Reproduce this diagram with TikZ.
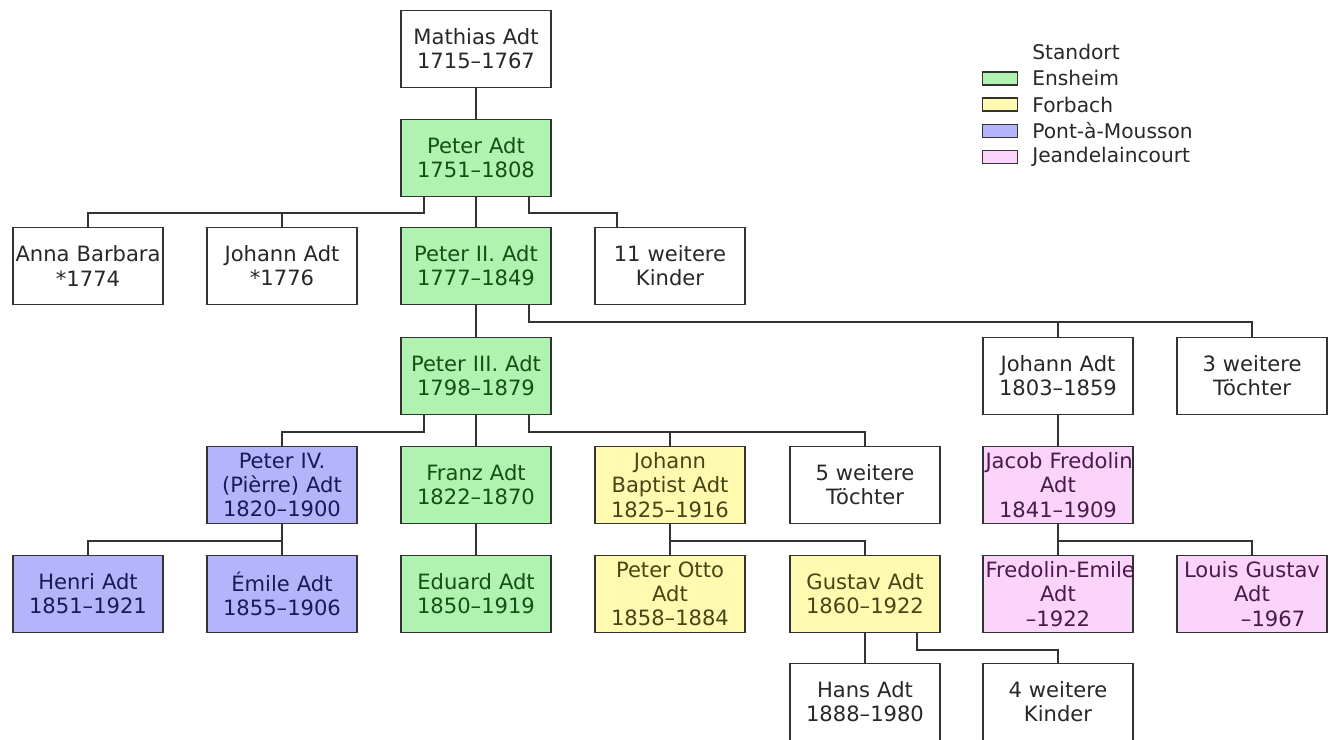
\documentclass[tikz,border=0pt]{standalone}
\usepackage{fontspec}
\setmainfont{DejaVu Sans}
\usetikzlibrary{positioning, calc}

\definecolor{linegray}{RGB}{51,51,51}
\definecolor{textgray}{RGB}{40,40,40}
\definecolor{ensheim}{RGB}{176,242,176}
\definecolor{ensheimtext}{RGB}{20,80,20}
\definecolor{forbach}{RGB}{255,250,176}
\definecolor{forbachtext}{RGB}{70,70,20}
\definecolor{pont}{RGB}{180,180,250}
\definecolor{ponttext}{RGB}{25,25,85}
\definecolor{jean}{RGB}{250,212,250}
\definecolor{jeantext}{RGB}{75,25,75}

\tikzset{
  person/.style={draw=linegray, line width=1.1pt, fill=white, text=textgray,
    minimum width=3cm, minimum height=1.54cm, text width=2.9cm, inner sep=0pt,
    align=center, font=\fontsize{12}{13.8}\selectfont},
  ens/.style={person, fill=ensheim, text=ensheimtext},
  forb/.style={person, fill=forbach, text=forbachtext},
  pam/.style={person, fill=pont, text=ponttext},
  jdc/.style={person, fill=jean, text=jeantext},
  link/.style={draw=linegray, line width=1.1pt},
  swatch/.style={draw=linegray, line width=0.9pt, minimum width=0.7cm, minimum height=0.26cm, inner sep=0pt},
  legtext/.style={anchor=west, text=textgray, inner sep=0pt, font=\fontsize{11.5}{13}\selectfont}
}

\begin{document}
\begin{tikzpicture}[x=0.02cm, y=-0.02cm]
\useasboundingbox (0,0) rectangle (1330,740);

% Generationen
\node[person] (mathias) at (476,49) {Mathias Adt\\1715–1767};
\node[ens] (peter) at (476,158) {Peter Adt\\1751–1808};

\node[person] (anna) at (88,266) {\mbox{Anna Barbara}\\{}*1774};
\node[person] (johann1) at (282,266) {Johann Adt\\{}*1776};
\node[ens] (peter2) at (476,266) {Peter II. Adt\\1777–1849};
\node[person] (kinder11) at (670,266) {11 weitere\\Kinder};

\node[ens] (peter3) at (476,376) {Peter III. Adt\\1798–1879};
\node[person] (johann2) at (1058,376) {Johann Adt\\1803–1859};
\node[person] (toechter3) at (1252,376) {3 weitere\\Töchter};

\node[pam] (peter4) at (282,485) {Peter IV.\\(Pièrre) Adt\\1820–1900};
\node[ens] (franz) at (476,485) {Franz Adt\\1822–1870};
\node[forb] (baptist) at (670,485) {Johann\\Baptist Adt\\1825–1916};
\node[person] (toechter5) at (865,485) {5 weitere\\Töchter};
\node[jdc] (jacob) at (1058,485) {\mbox{Jacob Fredolin}\\Adt\\1841–1909};

\node[pam] (henri) at (88,594) {Henri Adt\\1851–1921};
\node[pam] (emile) at (282,594) {Émile Adt\\1855–1906};
\node[ens] (eduard) at (476,594) {Eduard Adt\\1850–1919};
\node[forb] (otto) at (670,594) {Peter Otto\\Adt\\1858–1884};
\node[forb] (gustav) at (865,594) {Gustav Adt\\1860–1922};
\node[jdc] (fredolin) at (1058,594) {\mbox{Fredolin-Emile}\\Adt\\–1922};
\node[jdc] (louis) at (1252,594) {\mbox{Louis Gustav}\\Adt\\\hspace*{2em}–1967};

\node[person] (hans) at (865,702) {Hans Adt\\1888–1980};
\node[person] (kinder4) at (1058,702) {4 weitere\\Kinder};

% Verbindungen
\draw[link] (mathias) -- (peter);
\draw[link] (peter) -- (peter2);
\draw[link] ($(peter.south)+(-52,0)$) -- ++(0,16) -| (anna.north);
\draw[link] ($(peter.south)+(-52,16)$) -| (johann1.north);
\draw[link] ($(peter.south)+(53,0)$) -- ++(0,16) -| ($(kinder11.north)+(-53,0)$);

\draw[link] (peter2) -- (peter3);
\draw[link] ($(peter2.south)+(53,0)$) -- ++(0,17) -| (johann2.north);
\draw[link] ($(peter2.south)+(53,17)$) -| (toechter3.north);

\draw[link] ($(peter3.south)+(-52,0)$) -- ++(0,17) -| (peter4.north);
\draw[link] (peter3) -- (franz);
\draw[link] ($(peter3.south)+(53,0)$) -- ++(0,17) -| (baptist.north);
\draw[link] ($(peter3.south)+(53,17)$) -| (toechter5.north);
\draw[link] (johann2) -- (jacob);

\draw[link] (peter4) -- (emile);
\draw[link] ($(peter4.south)+(0,17)$) -| (henri.north);
\draw[link] (franz) -- (eduard);
\draw[link] (baptist) -- (otto);
\draw[link] ($(baptist.south)+(0,17)$) -| (gustav.north);
\draw[link] (jacob) -- (fredolin);
\draw[link] ($(jacob.south)+(0,17)$) -| (louis.north);

\draw[link] (gustav) -- (hans);
\draw[link] ($(gustav.south)+(52,0)$) -- ++(0,17) -| (kinder4.north);

% Legende
\node[legtext] (standort) at (1032,52) {Standort};
\foreach \col/\ort [count=\i] in {ensheim/Ensheim, forbach/Forbach, pont/Pont-à-Mousson, jean/Jeandelaincourt} {
  \node[swatch, fill=\col] (sw\i) at (1000,52+26.3*\i) {};
  \node[legtext] (ort\i) at (1032,52+26.3*\i) {\ort};
}
\end{tikzpicture}
\end{document}
